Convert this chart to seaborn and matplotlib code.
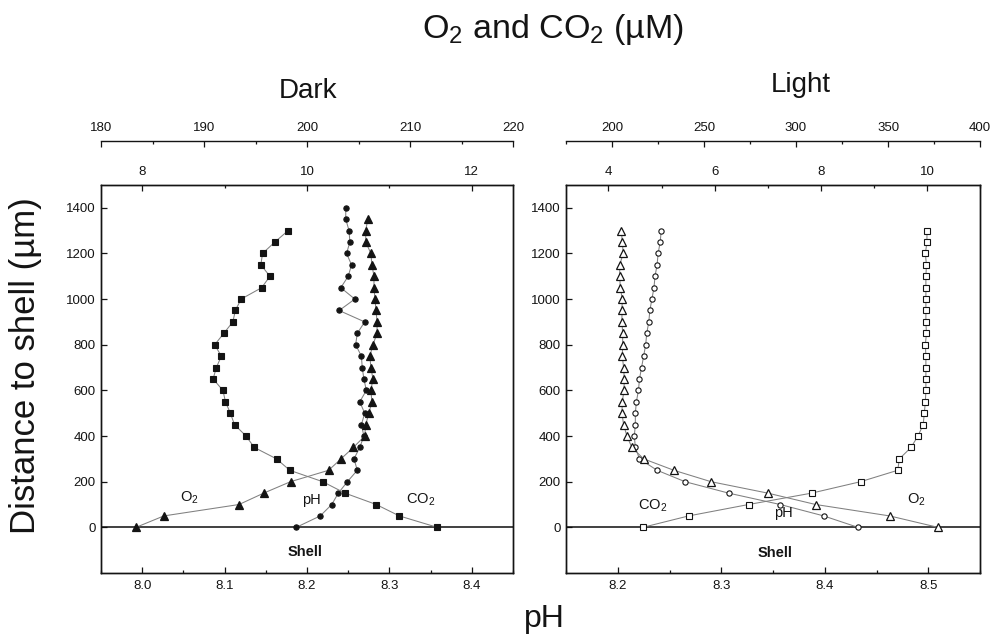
"""
Microprofiles next to the shell in dark and light:
pH (bottom axis), CO2 (inner top axis) and O2 (outer top axis).
"""

import matplotlib
matplotlib.use("Agg")
import matplotlib.pyplot as plt
from matplotlib.ticker import MultipleLocator
import seaborn as sns

sns.set_style("ticks")
plt.rcParams["font.family"] = ["Liberation Sans", "DejaVu Sans"]
plt.rcParams["mathtext.fontset"] = "custom"
plt.rcParams["mathtext.rm"] = "Liberation Sans"
plt.rcParams["mathtext.it"] = "Liberation Sans:italic"
plt.rcParams["mathtext.bf"] = "Liberation Sans:bold"
for key in ["text.color", "axes.labelcolor", "xtick.color", "ytick.color"]:
    plt.rcParams[key] = "0.08"

# ── Data ───────────────────────────────────────────────────────────────────────

DEPTH_1400 = [1400, 1350, 1300, 1250, 1200, 1150, 1100, 1050, 1000, 950, 900, 850,
              800, 750, 700, 650, 600, 550, 500, 450, 400, 350, 300, 250, 200, 150,
              100, 50, 0]
DEPTH_1350 = DEPTH_1400[1:]
DEPTH_1300 = DEPTH_1400[2:]

DARK_PH = [8.247, 8.247, 8.251, 8.252, 8.248, 8.254, 8.250, 8.241, 8.258, 8.239,
           8.270, 8.261, 8.259, 8.266, 8.267, 8.269, 8.272, 8.264, 8.270, 8.266,
           8.269, 8.264, 8.257, 8.261, 8.249, 8.238, 8.230, 8.216, 8.187]
DARK_O2 = [205.9, 205.7, 205.7, 206.2, 206.3, 206.5, 206.5, 206.6, 206.7, 206.8,
           206.8, 206.4, 206.1, 206.2, 206.4, 206.2, 206.3, 206.0, 205.7, 205.6,
           204.5, 203.3, 202.1, 198.4, 195.8, 193.4, 186.1, 183.4]
DARK_CO2 = [9.77, 9.61, 9.46, 9.44, 9.55, 9.45, 9.20, 9.13, 9.10, 8.99, 8.88,
            8.96, 8.90, 8.86, 8.98, 9.01, 9.07, 9.12, 9.26, 9.36, 9.63, 9.79,
            10.19, 10.46, 10.84, 11.12, 11.58]

LIGHT_PH = [8.242, 8.241, 8.239, 8.238, 8.236, 8.235, 8.233, 8.231, 8.230, 8.228,
            8.227, 8.225, 8.223, 8.221, 8.220, 8.218, 8.217, 8.217, 8.216, 8.217,
            8.221, 8.238, 8.265, 8.307, 8.357, 8.399, 8.432]
LIGHT_O2 = [205.1, 205.6, 206.1, 204.2, 204.2, 204.5, 205.6, 205.4, 205.4, 205.8,
            205.8, 205.6, 206.3, 206.7, 206.5, 205.6, 205.4, 206.3, 208.1, 210.8,
            217.2, 233.6, 253.8, 284.6, 310.7, 350.9, 377.1]
LIGHT_CO2 = [10.00, 10.00, 9.97, 9.99, 9.98, 9.98, 9.98, 9.98, 9.98, 9.99, 9.97,
             9.98, 9.98, 9.98, 9.98, 9.97, 9.95, 9.93, 9.83, 9.70, 9.48, 9.45,
             8.75, 7.83, 6.64, 5.51, 4.65]

Y_TICKS = [0, 200, 400, 600, 800, 1000, 1200, 1400]

LINE_KW = dict(color="0.5", linewidth=0.75, sort=False, estimator=None)
TICK_SIZE = 9.5


# ── Panel helper ───────────────────────────────────────────────────────────────

def _style_x(axis_obj, major, minor, lim, top):
    axis_obj.set_xlim(*lim)
    axis_obj.xaxis.set_major_locator(MultipleLocator(major))
    axis_obj.xaxis.set_minor_locator(MultipleLocator(minor))
    axis_obj.tick_params(axis="x", which="both", direction="in",
                         top=top, bottom=not top, labeltop=top, labelbottom=not top,
                         labelsize=TICK_SIZE, width=0.9)
    axis_obj.tick_params(axis="x", which="major", length=4, pad=5)
    axis_obj.tick_params(axis="x", which="minor", length=2.5)


def draw_panel(ax, ph, o2, co2, d_ph, d_o2, d_co2, filled, lims, labels):
    ph_lim, co2_lim, co2_steps, o2_lim, o2_steps = lims
    face = "0.08" if filled else "white"

    ax_co2 = ax.twiny()
    ax_o2 = ax.twiny()

    sns.lineplot(x=ph, y=d_ph, ax=ax, marker="o", markersize=3.8,
                 markerfacecolor=face, markeredgecolor="0.08", markeredgewidth=0.8,
                 **LINE_KW)
    sns.lineplot(x=co2, y=d_co2, ax=ax_co2, marker="s", markersize=3.9,
                 markerfacecolor=face, markeredgecolor="0.08", markeredgewidth=0.8,
                 **LINE_KW)
    sns.lineplot(x=o2, y=d_o2, ax=ax_o2, marker="^", markersize=5.4 if filled else 6,
                 markerfacecolor=face, markeredgecolor="0.08", markeredgewidth=0.9,
                 **LINE_KW)

    ax.axhline(0, color="0.05", linewidth=1.1, zorder=1)
    ax.set_ylim(-200, 1500)
    ax.set_yticks(Y_TICKS)
    ax.tick_params(axis="y", direction="in", length=4, width=0.9, labelsize=TICK_SIZE,
                   pad=4, right=False)
    _style_x(ax, 0.1, 0.05, ph_lim, top=False)
    _style_x(ax_co2, co2_steps[0], co2_steps[1], co2_lim, top=True)
    _style_x(ax_o2, o2_steps[0], o2_steps[1], o2_lim, top=True)
    ax.xaxis.set_major_formatter(plt.FormatStrFormatter("%.1f"))

    ax_o2.spines["top"].set_position(("outward", 32))
    for side in ["left", "right", "bottom"]:
        ax_o2.spines[side].set_visible(False)
    for a in (ax, ax_co2, ax_o2):
        for s in a.spines.values():
            s.set_linewidth(1.0)
            s.set_color("0.08")
        a.set_xlabel("")
        a.set_ylabel("")

    for txt, xv, yv, bold in labels:
        ax.text(xv, yv, txt, ha="center", va="center", fontsize=10.5,
                fontweight="bold" if bold else "normal")


# ── Figure ─────────────────────────────────────────────────────────────────────

fig = plt.figure(figsize=(10.03, 6.42), dpi=100)
ax_dark = fig.add_axes([0.1007, 0.1075, 0.4108, 0.6044])
ax_light = fig.add_axes([0.5643, 0.1075, 0.4128, 0.6044])

draw_panel(
    ax_dark, DARK_PH, DARK_O2, DARK_CO2, DEPTH_1400, DEPTH_1350, DEPTH_1300,
    filled=True,
    lims=((7.95, 8.45), (7.5, 12.5), (2, 1), (180, 220), (10, 5)),
    labels=[("O$_2$", 8.057, 130, False), ("pH", 8.205, 120, False),
            ("CO$_2$", 8.338, 120, False), ("Shell", 8.198, -106, True)],
)
draw_panel(
    ax_light, LIGHT_PH, LIGHT_O2, LIGHT_CO2, DEPTH_1300, DEPTH_1300, DEPTH_1300,
    filled=False,
    lims=((8.15, 8.55), (3.2, 11.0), (2, 1), (175, 400), (50, 25)),
    labels=[("CO$_2$", 8.234, 94, False), ("pH", 8.360, 62, False),
            ("O$_2$", 8.488, 120, False), ("Shell", 8.352, -112, True)],
)

fig.text(0.551, 0.941, "O$_2$ and CO$_2$ (µM)", ha="center", va="baseline", fontsize=24.5)
fig.text(0.307, 0.848, "Dark", ha="center", va="baseline", fontsize=20)
fig.text(0.798, 0.856, "Light", ha="center", va="baseline", fontsize=20)
fig.text(0.543, 0.024, "pH", ha="center", va="baseline", fontsize=23)
fig.text(0.025, 0.430, "Distance to shell (µm)", rotation=90, ha="center",
         va="center", fontsize=25)

fig.savefig("out.png", dpi=100)
plt.close(fig)
